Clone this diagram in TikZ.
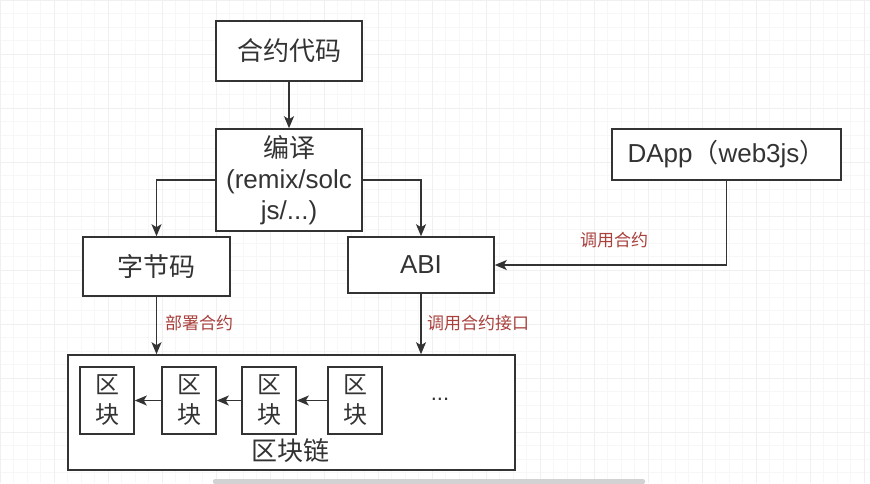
\documentclass[tikz,border=0pt]{standalone}
\usepackage{fontspec}
\setmainfont{Liberation Sans}
\newfontfamily\cjk{Noto Sans CJK SC}
\usetikzlibrary{arrows.meta}

\definecolor{linec}{HTML}{333333}
\definecolor{redc}{HTML}{A8403C}
\tikzset{
  box/.style={draw=linec, line width=1.6pt, fill=white, text=linec, inner sep=0pt,
    font=\fontsize{26}{31}\selectfont, align=center},
  blockbox/.style={box, minimum width=54, minimum height=67,
    font=\cjk\fontsize{24}{30}\selectfont},
  arr/.style={draw=linec, line width=1.3pt, -{Stealth[length=12pt, width=10pt, inset=3pt]}},
  lbl/.style={text=redc, inner sep=0pt, font=\cjk\fontsize{17}{20}\selectfont}
}

\begin{document}
\begin{tikzpicture}[x=1pt, y=-1pt]
  \useasboundingbox (0,0) rectangle (870,483);
  \fill[white] (0,0) rectangle (870,483);
  \draw[gray!6, line width=0.4pt] (0,0) grid[step=13.5pt] (870,483);
  \draw[gray!12, line width=0.6pt] (0,0) grid[step=54pt] (870,483);
  \fill[gray!35, rounded corners=1.5pt] (213,479) rectangle (645,484);

  % boxes
  \node[box, minimum width=146, minimum height=60] (code) at (289,51) {\cjk 合约代码};
  \node[box, minimum width=146, minimum height=102] (compile) at (289,180)
    {{\cjk 编译}\\(remix/solc\\js/...)};
  \node[box, minimum width=147, minimum height=59] (bytecode) at (156.5,266.5) {\cjk 字节码};
  \node[box, minimum width=146, minimum height=56] (abi) at (421,265) {ABI};
  \node[box, minimum width=229, minimum height=51] (dapp) at (726.5,154.5)
    {DApp{\cjk （}web3js{\cjk ）}};
  \node[box, minimum width=447, minimum height=115] (chain) at (291.5,412.5) {};
  \node[text=linec, font=\cjk\fontsize{26}{31}\selectfont] (chainlabel) at (290,451) {区块链};

  % blocks inside the chain
  \foreach \i/\x in {1/107, 2/189, 3/269, 4/355}
    \node[blockbox] (b\i) at (\x,400.5) {区\\块};
  \node[text=linec, font=\fontsize{22}{26}\selectfont] (dots) at (440,399) {...};
  \foreach \a/\b in {2/1, 3/2, 4/3}
    \draw[arr] (b\a.west) -- (b\b.east);

  % connectors
  \draw[arr] (code) -- (compile);
  \draw[arr] (compile.west) -| (bytecode.north);
  \draw[arr] (compile.east) -| (abi.north);
  \draw[arr] (dapp.south) |- (abi.east);
  \draw[arr] (bytecode.south) -- (bytecode.south |- chain.north);
  \draw[arr] (abi.south) -- (abi.south |- chain.north);

  % labels
  \node[lbl] (callc) at (614,240) {调用合约};
  \node[lbl, anchor=west] (deploy) at (165,323) {部署合约};
  \node[lbl, anchor=west] (callabi) at (427,323) {调用合约接口};
\end{tikzpicture}
\end{document}
